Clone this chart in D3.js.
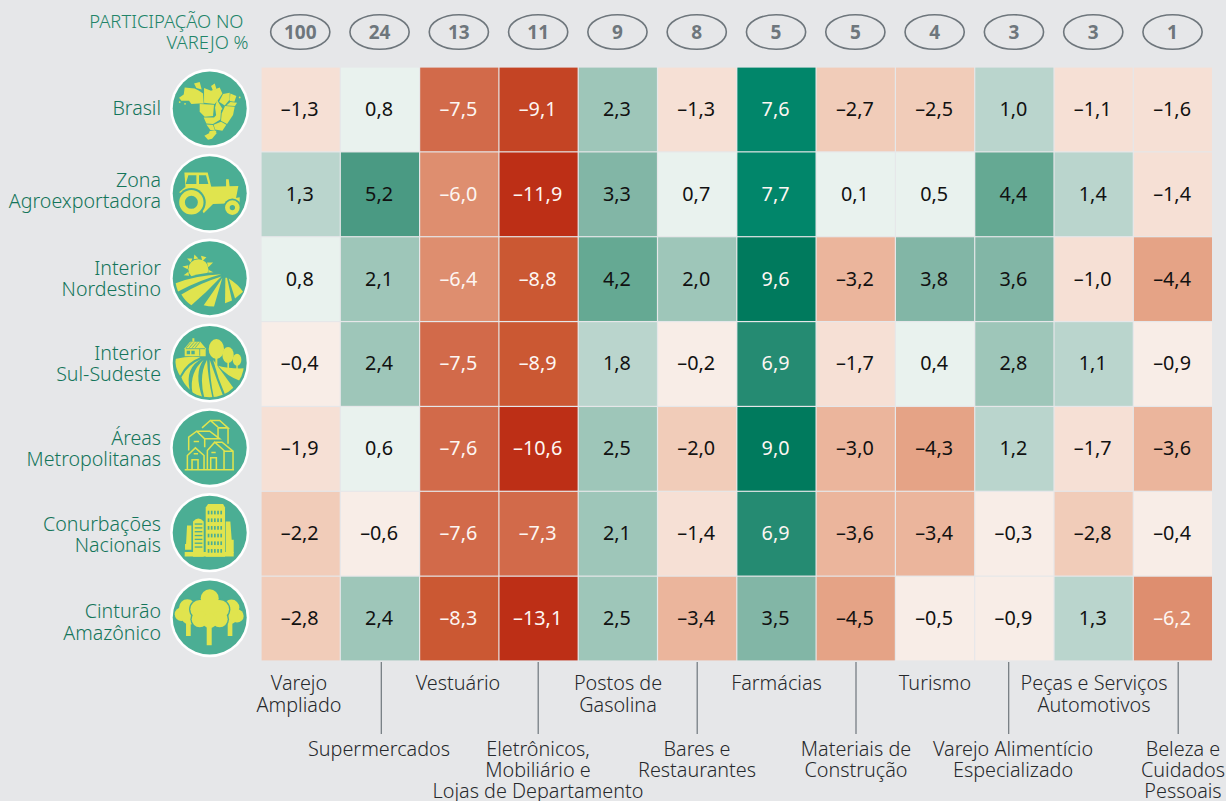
<!DOCTYPE html>
<html lang="pt-BR">
<head>
<meta charset="utf-8">
<script src="https://cdn.jsdelivr.net/npm/d3@7"></script>
<style>
html,body{margin:0;padding:0;background:#e6e7e9;overflow:hidden}
svg{display:block}
text{font-family:"Noto Sans",sans-serif}
</style>
</head>
<body>
<svg id="chart" width="1226" height="801"></svg>
<script>
// Variação da participação no varejo, por região e segmento
const regions = ["Brasil", "Zona Agroexportadora", "Interior Nordestino", "Interior Sul-Sudeste",
  "Áreas Metropolitanas", "Conurbações Nacionais", "Cinturão Amazônico"];
const regionLines = [["Brasil"], ["Zona", "Agroexportadora"], ["Interior", "Nordestino"], ["Interior", "Sul-Sudeste"],
  ["Áreas", "Metropolitanas"], ["Conurbações", "Nacionais"], ["Cinturão", "Amazônico"]];
const shares = [100, 24, 13, 11, 9, 8, 5, 5, 4, 3, 3, 1];

const segmentLines = [["Varejo", "Ampliado"], ["Supermercados"], ["Vestuário"],
  ["Eletrônicos,", "Mobiliário e", "Lojas de Departamento"], ["Postos de", "Gasolina"],
  ["Bares e", "Restaurantes"], ["Farmácias"], ["Materiais de", "Construção"], ["Turismo"],
  ["Varejo Alimentício", "Especializado"], ["Peças e Serviços", "Automotivos"],
  ["Beleza e", "Cuidados", "Pessoais"]];

const brasil     = [-1.3, 0.8, -7.5, -9.1, 2.3, -1.3, 7.6, -2.7, -2.5, 1.0, -1.1, -1.6];
const agro       = [1.3, 5.2, -6.0, -11.9, 3.3, 0.7, 7.7, 0.1, 0.5, 4.4, 1.4, -1.4];
const nordestino = [0.8, 2.1, -6.4, -8.8, 4.2, 2.0, 9.6, -3.2, 3.8, 3.6, -1.0, -4.4];
const sulSudeste = [-0.4, 2.4, -7.5, -8.9, 1.8, -0.2, 6.9, -1.7, 0.4, 2.8, 1.1, -0.9];
const metro      = [-1.9, 0.6, -7.6, -10.6, 2.5, -2.0, 9.0, -3.0, -4.3, 1.2, -1.7, -3.6];
const conurb     = [-2.2, -0.6, -7.6, -7.3, 2.1, -1.4, 6.9, -3.6, -3.4, -0.3, -2.8, -0.4];
const amazonia   = [-2.8, 2.4, -8.3, -13.1, 2.5, -3.4, 3.5, -4.5, -0.5, -0.9, 1.3, -6.2];
const rows = [brasil, agro, nordestino, sulSudeste, metro, conurb, amazonia];

const binEdges = [-9.95, -8.95, -7.95, -6.95, -5.95, -3.95, -2.95, -1.95, -0.95, 0, 1, 2, 3, 4, 5, 6, 7, 8];
const binColors = ["#bd2f16", "#c44424", "#cb5833", "#d26a4a", "#de8e6f", "#e5a386", "#ebb59c", "#f1ccb9",
  "#f6e0d5", "#f8ede7", "#e9f2ee", "#bad5cd", "#9ec6b9", "#82b6a6", "#65a993", "#4a9a83", "#258b72", "#01866a", "#007a5d"];

const YELLOW = "#e0e44e", GREEN = "#4bae94";

const svg = d3.select("#chart");
const columnIdx = d3.range(shares.length);
const x = d3.scaleBand().domain(columnIdx).range([261, 1212.6]).paddingInner(0);
const y = d3.scaleBand().domain(regions).range([67, 661]).paddingInner(0);
const color = d3.scaleThreshold().domain(binEdges).range(binColors);
const fmt = v => (v < 0 ? "–" : "") + d3.format(".1f")(Math.abs(v)).replace(".", ",");
const isDark = v => v <= -5.95 || v >= 6;

// Cabeçalho
const head = svg.append("g").attr("fill", "#218468").attr("font-size", 18.4).attr("font-weight", 300).attr("text-anchor", "end");
head.append("text").attr("x", 243.5).attr("y", 28).text("PARTICIPAÇÃO NO");
head.append("text").attr("x", 248.5).attr("y", 49).text("VAREJO %");

const pill = svg.append("g").selectAll("g").data(shares).join("g")
  .attr("transform", (d, i) => `translate(${x(i) + x.bandwidth() / 2 - 0.4},32)`);
pill.append("ellipse").attr("rx", 29.6).attr("ry", 17.3).attr("fill", "none").attr("stroke", "#6e767c").attr("stroke-width", 1.6);
pill.append("text").attr("y", 7).attr("text-anchor", "middle").attr("font-size", 19).attr("font-weight", 700)
  .attr("fill", "#6e767c").text(d => d);

// Células do mapa de calor
const row = svg.append("g").selectAll("g").data(rows).join("g")
  .attr("transform", (d, i) => `translate(0,${y(regions[i])})`);
const cell = row.selectAll("g").data(d => d).join("g")
  .attr("transform", (d, i) => `translate(${x(i)},0)`);
cell.append("rect")
  .attr("x", 0.6).attr("y", 0.6)
  .attr("width", x.bandwidth() - 1.2).attr("height", y.bandwidth() - 1.2)
  .attr("fill", d => color(d));
cell.append("text")
  .attr("x", x.bandwidth() / 2 - 0.9).attr("y", y.bandwidth() / 2 + 6.5)
  .attr("text-anchor", "middle").attr("font-size", 19.8)
  .attr("fill", d => isDark(d) ? "#fdf6f2" : "#111")
  .attr("font-weight", 400)
  .text(fmt);

// Rótulos das regiões
const labelNudge = [1, -2, 1.5, 1.5, 1.5, 3, 5.5];
const labels = svg.append("g").attr("fill", "#14755a").attr("font-size", 19.6).attr("font-weight", 300).attr("text-anchor", "end");
regionLines.forEach((lines, i) => {
  const cy = y(regions[i]) + y.bandwidth() / 2 - 1 + labelNudge[i];
  const top = cy + 6 - (lines.length - 1) * 10.7;
  lines.forEach((t, k) => labels.append("text").attr("x", 161).attr("y", top + k * 21.4).text(t));
});

// Rótulos e guias dos segmentos
const labelCx = [299, 379, 458, 538, 618, 697, 776.5, 856, 935, 1013, 1094, 1183];
const guideX = [null, 381.3, null, 538.2, null, 697.2, null, 856, null, 1008.7, null, 1178.2];
const segGroup = svg.append("g").attr("fill", "#26292c").attr("font-size", 19.8).attr("font-weight", 300).attr("text-anchor", "middle");
segmentLines.forEach((lines, i) => {
  const lower = i % 2 === 1;
  const base = lower ? 756 : 690;
  lines.forEach((t, k) => segGroup.append("text").attr("x", labelCx[i]).attr("y", base + k * (lower ? 21 : 22)).text(t));
  if (lower) svg.append("line").attr("x1", guideX[i]).attr("x2", guideX[i]).attr("y1", 662).attr("y2", 734)
    .attr("stroke", "#6e767c").attr("stroke-width", 1.2);
});

// Ícones das regiões, desenhados numa grade três vezes maior
function poly(g, pts) { return g.append("polygon").attr("points", pts.map(p => p.join(",")).join(" ")); }
function dot(g, cx, cy, r) { return g.append("circle").attr("cx", cx).attr("cy", cy).attr("r", r); }

const iconBrazil = g => {
  g.attr("transform", "translate(-630,-325)").attr("fill", YELLOW);
  [
    [[555,262],[585,265],[598,272],[610,280],[612,310],[598,310],[575,312],[568,302],[545,302],[538,293],[552,283]],
    [[583,250],[600,246],[606,268],[590,264]],
    [[634,258],[645,250],[650,266],[640,272]],
    [[613,264],[634,272],[660,262],[668,280],[655,300],[645,312],[613,308]],
    [[670,282],[690,278],[690,298],[675,316],[658,305]],
    [[692,280],[710,288],[704,305],[690,303]],
    [[692,306],[712,308],[706,318],[680,316]],
    [[676,318],[705,320],[700,345],[682,372],[664,362],[666,340]],
    [[600,312],[643,314],[640,348],[615,350],[600,335]],
    [[652,300],[668,326],[650,350],[646,322]],
    [[643,352],[664,330],[662,358],[640,372],[620,370],[612,352]],
    [[664,365],[680,374],[668,392],[646,388],[642,374]],
    [[620,373],[640,375],[646,392],[632,390]],
    [[630,393],[650,392],[648,400],[628,399]],
    [[614,407],[632,397],[652,398],[637,416],[625,419]]
  ].forEach(p => poly(g, p));
  [[720,292],[540,306],[556,311]].forEach(p => dot(g, p[0], p[1], 2.6));
};

const iconTractor = g => {
  g.attr("transform", "translate(-630,-580)");
  const body = g.append("g").attr("fill", YELLOW);
  body.append("path").attr("d", "M554,518H624L637,570H558Z");
  g.append("path").attr("fill", GREEN).attr("d", "M566,526H590V552H558ZM598,526H619L626,552H598Z");
  const hood = g.append("g").attr("fill", YELLOW);
  hood.append("path").attr("d", "M538,577L556,562L716,558L706,610L640,612L612,640L590,600Z");
  hood.append("path").attr("d", "M679,538H687L690,562H679Z");
  hood.append("path").attr("d", "M676,600L720,592L720,608L680,618Z");
  const ring = (cx, cy, r, w) => g.append("circle").attr("cx", cx).attr("cy", cy).attr("r", r)
    .attr("fill", GREEN).attr("stroke", YELLOW).attr("stroke-width", w);
  dot(g, 575, 607, 43).attr("fill", GREEN);
  ring(575, 607, 28, 17);
  dot(g, 698, 623, 27).attr("fill", GREEN);
  ring(698, 623, 15, 14);
};

const iconSun = g => {
  g.attr("transform", "translate(-630,-147)").attr("fill", YELLOW);
  dot(g, 596, 120, 30);
  [
    [[562,88],[578,88],[573,100]], [[584,76],[596,88],[582,90]], [[604,80],[620,84],[608,96]],
    [[622,100],[640,100],[626,114]], [[548,112],[566,108],[564,120]], [[552,138],[566,128],[568,140]],
    [[626,122],[642,130],[626,136]]
  ].forEach(p => poly(g, p));
  g.append("path").attr("fill", GREEN).attr("d", "M525,160Q590,128 668,128V170H525Z");
  g.append("path").attr("d", "M528,162Q590,138 665,135Q600,152 535,187Q530,175 528,162Z");
  g.append("path").attr("d", "M545,196Q600,162 665,142Q620,190 575,228Q558,218 545,196Z");
  g.append("path").attr("d", "M668,146L643,232Q625,232 612,228Q640,190 668,146Z");
  g.append("path").attr("d", "M677,146L682,146L697,214L676,222Z");
  g.append("path").attr("d", "M687,148Q715,165 730,188L706,208Z");
};

const iconFarm = g => {
  g.attr("transform", "translate(-630,-402)");
  g.append("clipPath").attr("id", "farm-clip").append("circle").attr("cx", 630).attr("cy", 402).attr("r", 103);
  const f = g.append("g").attr("fill", YELLOW).attr("clip-path", "url(#farm-clip)");
  [[650,360,23,30],[685,378,17,24],[712,392,13,18]].forEach(t =>
    f.append("ellipse").attr("cx", t[0]).attr("cy", t[1]).attr("rx", t[2]).attr("ry", t[3]));
  f.append("path").attr("d", "M647,385h6v30h-6ZM683,395h5v24h-5ZM710,405h4v16h-4Z");
  f.append("path").attr("d", "M555,358L571,338H602L618,358V382H555Z");
  f.append("path").attr("d", "M578,328h6v10h-6Z");
  f.append("path").attr("d", "M525,390Q570,380 602,385Q560,400 541,440Q528,420 525,390Z");
  f.append("path").attr("d", "M607,389Q555,415 570,482Q550,462 545,445Q565,405 607,389Z");
  f.append("path").attr("d", "M612,392Q582,430 608,506Q590,502 578,490Q568,430 612,392Z");
  f.append("path").attr("d", "M622,392Q625,450 640,514Q625,515 614,507Q596,440 622,392Z");
  f.append("path").attr("d", "M630,392Q650,450 672,505Q655,513 644,513Q630,450 630,392Z");
  f.append("path").attr("d", "M640,392L702,478Q690,494 678,502Q655,450 640,392Z");
  f.append("path").attr("d", "M655,410Q690,420 735,418Q730,440 722,456Q680,440 655,410Z");
  g.append("path").attr("fill", "none").attr("stroke", GREEN).attr("stroke-width", 2.4)
    .attr("d", "M560,356L574,340M569,356L583,340M578,356L592,340M587,356L600,340M558,359H616M600,360V380");
  g.append("path").attr("fill", GREEN).attr("d", "M561,365h10v11h-10ZM575,365h10v11h-10Z");
};

const iconMetro = g => {
  g.attr("transform", "translate(-135,-132)").attr("fill", "none").attr("stroke", YELLOW)
    .attr("stroke-width", 4.6).attr("stroke-linejoin", "miter");
  g.append("path").attr("d", "M60,198H208");
  g.append("path").attr("d", "M112,72L137,50L160,70M137,50H165L190,72H160M190,72V120M160,72V100");
  g.append("path").attr("d", "M72,140V100L96,82L120,105V130M96,82H135L165,105H120M87,113H103");
  g.append("path").attr("d", "M68,198V155L92,132L118,155V198M82,198V168H100V198M87,150H100");
  g.append("path").attr("d", "M128,198V140L150,115L178,140V198M150,115H172L205,142V198M178,142H205M138,198V162H155V198M140,146H153");
};

const iconCity = g => {
  g.attr("transform", "translate(-630,-284)");
  const f = g.append("g").attr("fill", YELLOW);
  f.append("path").attr("d", "M618,208L625,198H670L676,208V356H618Z");
  f.append("path").attr("d", "M580,250Q596,232 612,250V356H580Z");
  f.append("path").attr("d", "M562,262H575V335H556V318H559ZM678,250H692L696,305H702V345H678Z");
  f.append("path").attr("d", "M555,342H702V355H555Z");
  const win = g.append("g").attr("fill", GREEN);
  d3.range(6).forEach(r => d3.range(5).forEach(c =>
    win.append("rect").attr("x", 624 + c * 9.5).attr("y", 218 + r * 23).attr("width", 5).attr("height", 11)));
  d3.range(7).forEach(r => win.append("rect").attr("x", 585).attr("y", 256 + r * 11.5).attr("width", 23).attr("height", 4));
};

const iconForest = g => {
  g.attr("transform", "translate(-630,-540)").attr("fill", YELLOW);
  [[563,510,25],[545,530,20],[570,535,26],[695,510,24],[712,535,20],[690,535,25]].forEach(p => dot(g, p[0], p[1], p[2]));
  g.append("path").attr("d", "M559,555h14v40h-14ZM684,555h14v40h-14Z");
  const crown = [[630,482,27],[600,515,28],[660,515,28],[630,515,38],[600,545,24],[660,545,24],[630,550,22]];
  crown.forEach(p => dot(g, p[0], p[1], p[2] + 4).attr("fill", GREEN));
  crown.forEach(p => dot(g, p[0], p[1], p[2]));
  g.append("rect").attr("x", 621).attr("y", 560).attr("width", 15).attr("height", 63);
};

const icons = [iconBrazil, iconTractor, iconSun, iconFarm, iconMetro, iconCity, iconForest];
const badge = svg.append("g").selectAll("g").data(regions).join("g")
  .attr("transform", d => `translate(209.7,${y(d) + y.bandwidth() / 2 - 1})`);
badge.append("circle").attr("r", 39.6).attr("fill", "#fff");
badge.append("circle").attr("r", 37).attr("fill", GREEN);
badge.append("g").attr("transform", "scale(0.3333)").each(function (d, i) { icons[i](d3.select(this).append("g")); });
</script>
</body>
</html>
